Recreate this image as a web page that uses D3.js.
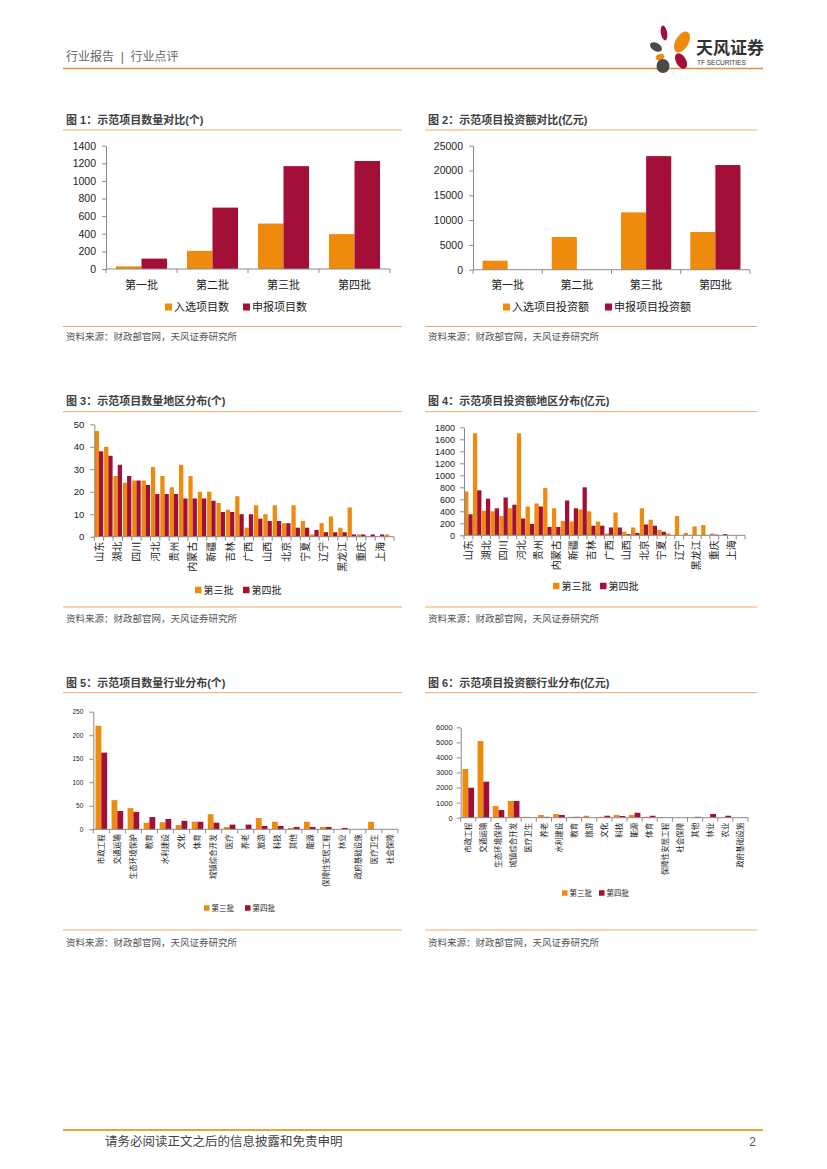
<!DOCTYPE html>
<html>
<head>
<meta charset="utf-8">
<script src="https://cdn.jsdelivr.net/npm/d3@7"></script>
<style>
  body { margin: 0; background: #fff; }
  svg text { font-family: "Liberation Sans", "Noto Sans CJK SC", sans-serif; }
</style>
</head>
<body>
<svg id="page" width="827" height="1169"></svg>
<script>
// ---- data ----
const batches = ["第一批", "第二批", "第三批", "第四批"];
const count_selected = [30, 206, 516, 396];
const count_applied = [118, 697, 1168, 1226];
const invest_selected = [1815, 6589, 11560, 7594];
const invest_applied = [0, 0, 22900, 21100];

const regions = ["山东", "河南", "湖北", "云南", "四川", "湖南", "河北", "江苏",
  "贵州", "安徽", "内蒙古", "浙江", "新疆", "福建", "吉林", "甘肃",
  "广西", "江西", "山西", "陕西", "北京", "天津", "宁夏", "青海",
  "辽宁", "海南", "黑龙江", "广东", "重庆", "西藏", "上海", "兵团"];
const region_count_3 = [47, 40, 27, 24, 25, 25, 31, 27, 22, 32, 27, 20, 20, 15, 12, 18,
  4, 14, 10, 14, 6, 14, 7, 1, 6, 9, 4, 13, 1, 0, 0, 1];
const region_count_4 = [38, 36, 32, 27, 25, 23, 19, 19, 19, 17, 17, 17, 16, 11, 11, 10,
  10, 8, 7, 7, 6, 4, 4, 3, 2, 2, 2, 1, 1, 1, 1, 0];
const region_invest_3 = [730, 1700, 410, 400, 320, 450, 1700, 480, 530, 790, 450, 240, 230, 430, 400, 230,
  30, 380, 60, 130, 450, 260, 90, 30, 320, 40, 150, 170, 30, 0, 0, 0];
const region_invest_4 = [350, 750, 610, 450, 630, 510, 280, 190, 480, 140, 140, 580, 450, 800, 160, 160,
  130, 130, 20, 40, 180, 160, 60, 0, 0, 0, 0, 0, 10, 20, 0, 0];

const industries_count = ["市政工程", "交通运输", "生态环境保护", "教育", "水利建设", "文化", "体育",
  "城镇综合开发", "医疗", "养老", "旅游", "科技", "其他", "能源", "保障性安居工程",
  "林业", "政府基础设施", "医疗卫生", "社会保障"];
const industry_count_3 = [220, 62, 45, 14, 15, 9, 16, 32, 5, 0, 24, 16, 3, 16, 5, 0, 0, 16, 0];
const industry_count_4 = [163, 39, 37, 26, 22, 18, 16, 14, 10, 10, 7, 7, 5, 5, 5, 3, 0, 0, 0];

const industries_invest = ["市政工程", "交通运输", "生态环境保护", "城镇综合开发", "医疗卫生", "养老",
  "水利建设", "教育", "旅游", "文化", "科技", "能源", "体育", "保障性安居工程",
  "社会保障", "其他", "林业", "农业", "政府基础设施"];
const industry_invest_3 = [3230, 5090, 770, 1110, 60, 180, 240, 60, 130, 60, 180, 180, 60, 50, 0, 0, 0, 0, 0];
const industry_invest_4 = [1990, 2390, 510, 1110, 0, 60, 180, 60, 0, 130, 110, 330, 130, 0, 0, 60, 250, 130, 0];

const ticks_count_1 = d3.range(0, 1401, 200);
const ticks_invest_2 = d3.range(0, 25001, 5000);
const ticks_count_3 = d3.range(0, 51, 10);
const ticks_invest_4 = d3.range(0, 1801, 200);
const ticks_count_5 = d3.range(0, 251, 50);
const ticks_invest_6 = d3.range(0, 6001, 1000);

// ---- styles ----
const ORANGE = "#EE8A0C";
const RED = "#A30F36";
const AXIS = "#8a8a8a";
const CJK = "'Noto Sans CJK SC', sans-serif";
const NUM = "'Liberation Sans', sans-serif";

const svg = d3.select("#page");

// header
svg.append("text").attr("x", 66).attr("y", 61).attr("font-size", 12).attr("fill", "#666")
  .attr("font-family", CJK).attr("xml:space", "preserve").text("行业报告  |  行业点评");
svg.append("line").attr("x1", 63).attr("x2", 763).attr("y1", 68.5).attr("y2", 68.5)
  .attr("stroke", "#E98B3A").attr("stroke-width", 1.5);

// logo petals
let petals = [
  [664, 33, 3.2, 7.5, -10, RED], [682, 42, 6.5, 11.5, 30, ORANGE], [656, 47, 4, 6.5, -60, "#4a4a4a"],
  [660, 57, 4.5, 3, -20, ORANGE], [681, 61, 5, 8.5, -30, RED], [663, 66, 6.5, 7, 0, "#4a4a4a"]
];
let logo = svg.append("g");
petals.forEach(p => {
  logo.append("ellipse").attr("cx", p[0]).attr("cy", p[1]).attr("rx", p[2]).attr("ry", p[3])
    .attr("transform", `rotate(${p[4]},${p[0]},${p[1]})`).attr("fill", p[5]);
});
svg.append("text").attr("x", 696).attr("y", 54).attr("font-size", 17).attr("font-weight", "bold")
  .attr("fill", "#333").attr("font-family", CJK).text("天风证券");
svg.append("text").attr("x", 697).attr("y", 65).attr("font-size", 6.5).attr("fill", "#333")
  .attr("font-family", NUM).text("TF SECURITIES");

// footer
svg.append("line").attr("x1", 63).attr("x2", 763).attr("y1", 1130).attr("y2", 1130)
  .attr("stroke", "#E9A53C").attr("stroke-width", 2.2);
svg.append("text").attr("x", 105).attr("y", 1146).attr("font-size", 12.5).attr("fill", "#444")
  .attr("font-family", CJK).text("请务必阅读正文之后的信息披露和免责申明");
svg.append("text").attr("x", 756).attr("y", 1146).attr("font-size", 12).attr("fill", "#555")
  .attr("text-anchor", "end").attr("font-family", NUM).text("2");

function frame(x1, x2, title_y, title_line, source_line, source_y, title) {
  svg.append("text").attr("x", x1 + 3).attr("y", title_y).attr("font-size", 11)
    .attr("font-weight", "bold").attr("fill", "#404040").attr("font-family", CJK).text(title);
  svg.append("line").attr("x1", x1).attr("x2", x2).attr("y1", title_line).attr("y2", title_line)
    .attr("stroke", "#F2A86A").attr("stroke-width", 1);
  svg.append("line").attr("x1", x1).attr("x2", x2).attr("y1", source_line).attr("y2", source_line)
    .attr("stroke", "#F2A86A").attr("stroke-width", 1);
  svg.append("text").attr("x", x1 + 3).attr("y", source_y).attr("font-size", 9.5)
    .attr("fill", "#555").attr("font-family", CJK).text("资料来源：财政部官网，天风证券研究所");
}

function bar_chart(cfg) {
  let g = svg.append("g");
  let x0 = d3.scaleBand().domain(cfg.categories).range([cfg.left, cfg.right]);
  let x1 = d3.scaleBand().domain(cfg.series.map(s => s.name))
    .range([0, x0.bandwidth()]).paddingInner(0).paddingOuter(cfg.pad);
  let y = d3.scaleLinear().domain([0, d3.max(cfg.yticks)]).range([cfg.bottom, cfg.top]);

  // bars
  let groups = g.selectAll(".grp")
    .data(cfg.categories.map((c, i) => ({ c, i })))
    .enter().append("g").attr("class", "grp")
    .attr("transform", d => `translate(${x0(d.c)},0)`);
  groups.selectAll("rect")
    .data(d => cfg.series.map(s => ({ name: s.name, color: s.color, v: s.values[d.i] })))
    .enter().append("rect")
    .attr("x", d => x1(d.name))
    .attr("width", x1.bandwidth())
    .attr("y", d => y(d.v))
    .attr("height", d => cfg.bottom - y(d.v))
    .attr("fill", d => d.color);

  // y axis
  let ya = g.append("g").attr("transform", `translate(${cfg.left},0)`)
    .call(d3.axisLeft(y).tickValues(cfg.yticks).tickSize(4).tickSizeOuter(0)
      .tickPadding(cfg.tick_pad).tickFormat(d3.format("d")));
  ya.select(".domain").attr("stroke", AXIS);
  ya.selectAll(".tick line").attr("stroke", AXIS);
  ya.selectAll("text").attr("font-size", cfg.tick_font).attr("fill", "#222").attr("font-family", NUM);

  // x axis line with boundary ticks
  g.append("line").attr("x1", cfg.left).attr("x2", cfg.right)
    .attr("y1", cfg.bottom).attr("y2", cfg.bottom).attr("stroke", AXIS);
  g.selectAll(".bt").data(d3.range(cfg.categories.length + 1)).enter().append("line")
    .attr("x1", i => cfg.left + i * x0.step()).attr("x2", i => cfg.left + i * x0.step())
    .attr("y1", cfg.bottom).attr("y2", cfg.bottom + 4).attr("stroke", AXIS);

  // category labels
  let every = cfg.every || 1;
  let xa = g.append("g").attr("transform", `translate(0,${cfg.bottom})`)
    .call(d3.axisBottom(x0).tickSize(0).tickPadding(cfg.label_pad)
      .tickFormat((d, i) => (i % every === 0 ? d : "")));
  xa.select(".domain").remove();
  let labels = xa.selectAll("text").attr("font-size", cfg.label_font)
    .attr("fill", "#222").attr("font-family", CJK);
  if (cfg.rotate) {
    labels.attr("transform", "rotate(-90)").attr("text-anchor", "end")
      .attr("x", -cfg.label_pad).attr("y", 0).attr("dy", "0.36em");
  }

  // legend
  let lg = g.append("g");
  cfg.series.forEach((s, i) => {
    let lx = cfg.legend_x[i];
    lg.append("rect").attr("x", lx).attr("y", cfg.legend_y - cfg.legend_sq / 2)
      .attr("width", cfg.legend_sq).attr("height", cfg.legend_sq).attr("fill", s.color);
    lg.append("text").attr("x", lx + cfg.legend_sq + 2).attr("y", cfg.legend_y)
      .attr("dy", "0.36em").attr("font-size", cfg.legend_font).attr("fill", "#222")
      .attr("font-family", CJK).text(s.name);
  });
}

// 图1
frame(63, 402, 124, 130, 326.5, 340, "图 1：示范项目数量对比(个)");
bar_chart({
  categories: batches,
  series: [{ name: "入选项目数", values: count_selected, color: ORANGE },
           { name: "申报项目数", values: count_applied, color: RED }],
  yticks: ticks_count_1, left: 106, right: 390, top: 145.7, bottom: 269,
  pad: 0.39, tick_font: 10.5, tick_pad: 6, label_font: 11, label_pad: 12,
  legend_x: [165, 243], legend_y: 307, legend_sq: 7, legend_font: 11
});

// 图2
frame(425, 757, 124, 130, 326.5, 340, "图 2：示范项目投资额对比(亿元)");
bar_chart({
  categories: batches,
  series: [{ name: "入选项目投资额", values: invest_selected, color: ORANGE },
           { name: "申报项目投资额", values: invest_applied, color: RED }],
  yticks: ticks_invest_2, left: 473, right: 750, top: 145.7, bottom: 269.7,
  pad: 0.38, tick_font: 10.5, tick_pad: 6, label_font: 11, label_pad: 12,
  legend_x: [503, 605], legend_y: 307, legend_sq: 7, legend_font: 11
});

// 图3
frame(63, 402, 405, 411.7, 607, 622, "图 3：示范项目数量地区分布(个)");
bar_chart({
  categories: regions,
  series: [{ name: "第三批", values: region_count_3, color: ORANGE },
           { name: "第四批", values: region_count_4, color: RED }],
  yticks: ticks_count_3, left: 94.3, right: 394, top: 424.3, bottom: 536.7,
  pad: 0.1, tick_font: 9.5, tick_pad: 6, label_font: 10, label_pad: 5, rotate: true, every: 2,
  legend_x: [195, 243], legend_y: 590, legend_sq: 6.5, legend_font: 10
});

// 图4
frame(425, 757, 405, 411.7, 607, 622, "图 4：示范项目投资额地区分布(亿元)");
bar_chart({
  categories: regions,
  series: [{ name: "第三批", values: region_invest_3, color: ORANGE },
           { name: "第四批", values: region_invest_4, color: RED }],
  yticks: ticks_invest_4, left: 464, right: 745, top: 427.3, bottom: 535.3,
  pad: 0.03, tick_font: 9, tick_pad: 5, label_font: 10, label_pad: 5, rotate: true, every: 2,
  legend_x: [553, 600], legend_y: 586, legend_sq: 6.5, legend_font: 10
});

// 图5
frame(63, 402, 687, 692.7, 930, 945.5, "图 5：示范项目数量行业分布(个)");
bar_chart({
  categories: industries_count,
  series: [{ name: "第三批", values: industry_count_3, color: ORANGE },
           { name: "第四批", values: industry_count_4, color: RED }],
  yticks: ticks_count_5, left: 93.3, right: 398, top: 711.7, bottom: 829.3,
  pad: 0.38, tick_font: 6.5, tick_pad: 6, label_font: 7.5, label_pad: 5, rotate: true,
  legend_x: [204, 245], legend_y: 908, legend_sq: 5.5, legend_font: 7.5
});

// 图6
frame(425, 757, 687, 692.7, 930, 945.5, "图 6：示范项目投资额行业分布(亿元)");
bar_chart({
  categories: industries_invest,
  series: [{ name: "第三批", values: industry_invest_3, color: ORANGE },
           { name: "第四批", values: industry_invest_4, color: RED }],
  yticks: ticks_invest_6, left: 460.7, right: 748, top: 727.3, bottom: 817.7,
  pad: 0.3, tick_font: 7.5, tick_pad: 4, label_font: 7.5, label_pad: 5, rotate: true,
  legend_x: [562, 599], legend_y: 893, legend_sq: 5.5, legend_font: 7.5
});
</script>
</body>
</html>
